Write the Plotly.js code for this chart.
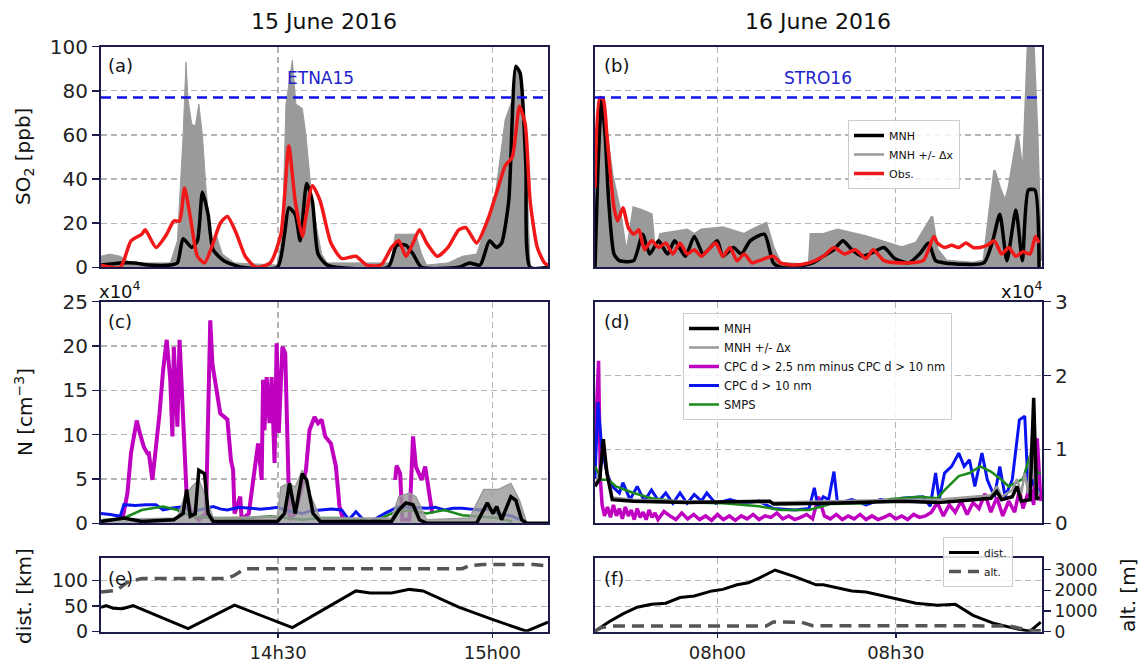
<!DOCTYPE html>
<html><head><meta charset="utf-8">
<script src="https://cdn.plot.ly/plotly-3.0.1.min.js"></script>
<style>html,body{margin:0;padding:0;background:#fff;} #chart{width:1144px;height:664px;}</style>
</head><body><div id="chart"></div>
<script>
// ---- time axes (minutes after 14:00 on 15 June, minutes after 07:00 on 16 June) ----
const xRange15 = [5.2, 67.8];
const xRange16 = [39.4, 114.6];
const xTicks15 = [30, 60];
const xTickText15 = ['14h30', '15h00'];
const xTicks16 = [60, 90];
const xTickText16 = ['08h00', '08h30'];
const so2Threshold15 = 77;
const so2Threshold16 = 77;

// ---- (a) SO2 15 June ----
const aObsT = [5.2,7.9,9.4,10.9,11.4,12.9,14.4,15.4,16.2,16.9,17.7,18.7,19.7,20.9,21.9,22.9,24.2,25.4,26.9,28.9,30.4,31.5,32.4,33.4,33.9,34.8,35.9,37.4,38.9,40.9,42.4,44.4,45.9,46.9,47.9,48.9,49.8,50.8,52.3,53.8,55.3,56.3,57.8,59.3,60.8,61.8,62.8,63.8,64.6,65.3,66.3,67.3,67.8];
const aObsV = [1,0,12,15,17,9,15,21,21,36,23,5,2,11,20,23,15,5,0,2,15,55,30,14,23,37,30,11,4,5,1,1,9,12,5,11,17,11,5,9,17,18,11,21,36,46,50,73,65,30,9,2,1];
const aMnhT = [5.2,7.9,9.9,11.9,14.9,15.9,16.7,17.9,18.7,19.4,20.2,20.9,22.4,24.9,29.9,30.9,31.5,32.4,33.1,34.0,34.8,35.6,36.9,45.4,46.6,47.9,48.9,50.1,55.3,56.8,58.3,59.6,60.6,61.3,62.3,63.3,63.9,64.7,65.3,67.8];
const aMnhV = [1,2,2,1,1,2,13,9,12,34,24,8,3,0,0,15,27,24,12,38,30,6,1,0,10,10,6,0,0,2,1,12,9,11,30,91,88,46,0,0];
const aGrayT = [5.2,6.4,7.9,9.4,14.9,15.9,16.7,17.1,17.4,17.9,18.4,18.9,19.4,19.9,20.7,21.4,22.2,23.9,29.9,30.6,31.1,32.0,32.5,33.4,33.9,34.6,35.4,36.1,36.9,45.9,46.4,49.3,50.1,50.8,53.8,55.8,57.8,60.3,61.8,62.8,63.3,64.1,64.8,65.3,67.8];
const aGrayV = [5,6,5,2,2,12,60,93,76,65,64,74,60,36,9,14,6,2,1,15,74,94,74,72,60,36,18,6,2,2,15,15,6,1,2,5,6,30,67,76,92,86,46,0,0];

// ---- (b) SO2 16 June ----
const bObsT = [39.4,40.2,40.8,41.4,42.0,42.6,43.2,44.1,45.0,45.9,46.8,47.7,48.9,50.1,51.3,52.5,53.7,54.9,56.1,57.3,58.5,59.7,60.9,62.1,63.3,64.5,65.8,67.0,69.4,70.6,73.0,75.4,77.8,79.6,81.4,83.2,85.0,86.2,88.0,91.0,94.6,96.4,97.0,98.2,99.4,100.6,101.8,103.0,104.2,105.4,106.6,107.8,109.0,110.2,111.4,112.6,113.5,114.1];
const bObsV = [36,77,76,60,42,27,21,27,18,15,17,8,12,9,11,6,11,6,8,5,8,11,5,9,3,6,2,3,5,2,1,2,5,9,6,8,4,8,3,2,3,14,11,9,10,9,11,9,9,10,12,6,9,5,7,6,14,11];
const bMnhT = [39.4,39.9,40.5,41.1,41.7,42.6,43.5,45.9,47.4,48.6,50.1,51.6,52.8,54.6,56.1,57.6,58.8,60.0,60.9,62.7,64.0,65.5,67.9,69.4,70.6,73.0,76.0,77.8,79.6,81.1,82.6,84.4,85.6,88.0,89.8,92.2,94.0,95.5,96.7,98.2,104.8,106.3,107.5,108.7,110.2,111.3,112.3,113.4,114.1];
const bMnhV = [0,45,76,60,30,6,3,3,15,6,12,6,12,5,14,6,9,12,5,9,6,12,15,2,0,0,2,5,8,12,8,5,6,9,4,2,6,11,3,2,2,12,24,3,26,3,35,35,0];
const bGrayT = [39.4,39.9,40.6,41.4,42.3,43.5,44.7,45.9,47.1,48.9,49.5,50.4,54.9,56.1,57.3,60.9,64.5,65.8,68.2,69.4,70.6,75.4,75.7,77.8,80.2,85.0,87.4,91.0,93.4,96.1,97.0,98.5,103.0,104.8,106.6,107.5,108.4,109.0,110.5,111.4,112.3,113.1,113.8,114.4];
const bGrayV = [3,63,76,60,42,27,6,27,26,24,6,15,17,15,17,18,15,17,20,9,2,1,15,15,17,14,12,9,11,23,8,3,2,3,44,36,30,36,60,42,105,105,60,3];

// ---- (c) particle number 15 June (x10^4 cm-3) ----
const cCpcT = [8.2,8.9,9.4,9.7,10.2,10.7,11.2,11.7,11.9,12.4,12.9,13.4,13.9,14.4,14.9,15.2,15.4,15.9,16.2,16.7,16.9,17.2,17.9,18.9,19.9,20.5,20.8,21.4,21.9,22.9,23.4,23.7,23.9,24.7,24.9,25.9,27.2,27.7,27.9,28.1,28.4,28.8,29.1,29.5,29.8,30.1,30.6,31.0,31.3,31.6,32.4,33.9,34.4,35.1,35.6,36.1,36.6,37.4,38.1,38.6,39.1,42.0,46.4,46.6,47.1,47.4,48.4,48.9,49.3,50.1,50.6,51.1,51.6];
const cCpcV = [0.4,3.4,7.9,9.4,11.6,10,8.6,7.9,7.9,4.9,8.6,12.4,17.3,20.7,16.2,9.8,19.9,10.9,20.7,11.7,6.4,3,1.1,0.4,1.1,22.9,18,15,12.4,11.7,7.1,6,1.1,3,0.4,1.1,9,4.9,16.2,10.5,16.5,11.3,16.5,6.8,20.3,10.2,19.9,19.2,8.6,0.4,1.1,6,10.5,12,11.3,11.7,9.8,9,6.4,1.9,0.4,null,4.9,6.5,5.6,0.4,0.4,9.8,6.4,4.9,6.4,3.8,1.1];
const cBlueT = [5.2,6.5,7.9,8.4,10.0,11.5,12.9,13.9,15.0,16.9,17.9,18.9,20.0,20.9,22.0,22.9,24.5,25.9,27.5,28.9,30.0,30.9,32.0,33.4,34.5,35.9,37.5,38.9,39.9,40.9,42.4,43.4,44.9,46.9,48.5,50.8,52.0,53.3,54.5,55.8,57.0,58.3,59.5,60.8,62.8,63.8];
const cBlueV = [1.1,1.0,0.8,2.1,2.0,2.1,2.1,1.5,1.7,1.9,1.1,1.5,1.7,1.9,1.6,1.5,1.8,1.7,1.6,1.7,1.8,1.5,1.3,1.1,1.4,1.5,1.6,1.5,0.4,1.3,0,0.4,1.1,1.9,1.8,1.7,1.8,1.5,1.7,1.7,1.6,1.5,1.6,1.1,0.8,0.4];
const cSmpsT = [5.5,7.9,10.9,13.9,15.9,17.9,20.9,25.9,28.9,33.4,35.9,38.4,43.4,45.9,48.4,50.8,53.3,55.8,60.8,62.8];
const cSmpsV = [0.4,0.4,1.5,1.9,1.5,0.8,0.6,0.6,0.8,0.4,0.6,0.6,0.2,1.1,1.5,1.1,1.5,0.9,0.6,0.2];
const cMnhT = [5.2,8.4,10.9,15.4,16.7,17.2,17.7,18.4,18.9,19.7,20.2,20.9,29.9,30.9,31.6,32.4,33.4,34.0,34.9,35.9,45.9,46.9,47.9,48.9,49.8,50.8,57.8,59.3,60.1,60.6,61.3,62.6,63.3,64.1,64.8,67.8];
const cMnhV = [0.2,0.6,0.2,0.4,1.1,3.8,0.8,1.1,6,5.6,1.1,0.2,0.2,1.1,4.5,1.1,5.6,4.9,1.1,0.2,0.2,1.5,2.3,2.1,0.4,0,0,2.3,1.1,1.9,0.4,3,2.6,0.4,0,0];
const cGrayT = [5.2,15.9,16.9,17.9,18.9,19.7,20.9,29.9,30.4,31.4,32.4,33.4,34.4,35.9,45.9,46.9,48.4,49.3,50.8,56.8,58.8,60.8,62.6,63.8,64.8,67.8];
const cGrayV = [0.4,0.6,3,4.1,4.9,3.4,0.6,0.8,4.1,4.5,4.1,6,3.4,0.6,0.6,3,3.4,3,0.4,0.6,3.8,3.8,4.5,2.6,0.1,0];

// ---- (d) particle number 16 June (x10^4 cm-3) ----
const dMnhT = [39.4,40.2,40.8,41.4,42.3,45.9,54.9,68.8,69.4,79.0,91.0,97.0,100.0,103.0,106.0,107.0,107.8,109.6,110.4,111.1,112.6,113.2,113.7,114.1];
const dMnhV = [0.5,0.6,1.14,0.68,0.32,0.3,0.28,0.3,0.26,0.27,0.3,0.28,0.3,0.32,0.34,0.43,0.32,0.36,0.5,0.3,0.32,1.7,0.32,0.36];
const dGrayT = [39.4,40.2,40.8,41.4,42.3,45.9,54.9,69.4,79.0,91.0,97.0,103.0,106.0,107.0,107.8,109.6,110.4,111.1,111.7,112.3,112.9,113.5,114.1];
const dGrayV = [0.5,0.7,1.0,0.75,0.35,0.32,0.3,0.28,0.3,0.32,0.32,0.36,0.38,0.5,0.36,0.45,0.6,0.4,0.68,0.4,1.2,0.5,0.4];
const dBlueT = [39.4,39.9,40.5,41.4,42.3,43.5,44.1,45.3,46.5,47.7,48.9,50.1,51.3,52.5,53.7,54.9,56.1,57.3,58.2,59.7,62.1,64.5,67.0,69.4,73.0,75.4,76.3,76.9,77.8,78.7,79.6,80.2,82.6,85.0,87.4,89.2,91.0,94.6,95.8,96.7,97.3,98.2,99.4,100.6,101.5,102.4,103.3,104.5,105.4,106.6,107.5,108.4,109.6,110.8,111.7,112.3,113.2,114.1];
const dBlueV = [0.6,1.64,1.05,0.68,0.5,0.41,0.55,0.32,0.5,0.3,0.45,0.3,0.41,0.27,0.41,0.27,0.39,0.3,0.41,0.27,0.32,0.27,0.3,0.2,0.18,0.2,0.48,0.23,0.36,0.32,0.7,0.27,0.32,0.25,0.32,0.3,0.34,0.36,0.23,0.68,0.32,0.68,0.77,0.95,0.77,0.86,0.5,0.95,0.59,0.36,0.77,0.36,0.59,1.4,1.45,0.41,0.59,0.41];
const dSmpsT = [39.4,40.5,41.7,42.9,45.9,48.9,54.9,60.9,67.0,70.6,75.4,79.0,85.0,89.2,94.0,97.0,98.2,100.6,102.4,104.2,106.0,107.8,109.0,110.2,111.4,112.9,113.8,114.4];
const dSmpsV = [0.77,0.59,0.59,0.5,0.41,0.34,0.28,0.27,0.23,0.18,0.18,0.26,0.27,0.33,0.36,0.34,0.45,0.64,0.68,0.77,0.7,0.59,0.5,0.55,0.6,1.0,0.68,0.68];
const dCpcT = [39.4,39.7,40.0,40.3,40.6,41.0,
  41.5,42.0,42.5,43.0,43.5,44.0,44.5,45.0,45.5,46.0,46.5,47.0,47.5,48.0,48.5,49.0,49.5,50.0,
  51,52,53,54,55,56,57,58,59,60,
  61,62,63,64,65,66,67,68,69,70,
  71,72,73,74,75,76,77,78,79,80,
  81,82,83,84,85,86,87,88,89,90,
  91,92,93,94,95,96,97,98,99,100,
  101,102,103,104,105,106,107,108,109,110,
  110.8,111.4,112.0,112.6,113.2,113.8,114.4];
const dCpcV = [1.05,1.6,2.2,0.6,0.25,0.1,
  0.22,0.08,0.25,0.1,0.2,0.06,0.22,0.1,0.18,0.05,0.2,0.08,0.15,0.05,0.18,0.08,0.14,0.05,
  0.16,0.1,0.05,0.14,0.06,0.12,0.05,0.1,0.04,0.12,
  0.05,0.1,0.04,0.1,0.06,0.12,0.05,0.1,0.08,0.14,
  0.06,0.1,0.05,0.08,0.12,0.06,0.36,0.1,0.06,0.12,
  0.05,0.1,0.06,0.12,0.05,0.1,0.05,0.08,0.12,0.06,
  0.1,0.05,0.12,0.08,0.1,0.15,0.28,0.1,0.25,0.15,
  0.3,0.12,0.28,0.2,0.4,0.15,0.35,0.1,0.3,0.15,
  0.45,0.2,0.35,0.5,0.25,1.15,0.3];

// ---- (e)/(f) flight distance [km] and altitude [m] ----
const eDistT = [5.2,5.9,6.9,8.2,9.7,10.9,17.4,23.9,32.0,40.9,42.9,45.9,48.4,50.3,55.3,59.8,64.8,67.8];
const eDistV = [48,51,46,45,51,44,6,52,8,80,76,76,83,80,48,25,1,19];
const eAltT = [5.2,7.4,8.9,10.9,22.9,23.9,25.4,55.8,56.8,58.8,65.8,67.8];
const eAltV = [1920,2000,2400,2570,2570,2730,3050,3050,3200,3250,3250,3180];
const fDistT = [39.4,41.7,44.1,46.5,48.9,51.3,53.7,56.1,59.1,60.9,63.3,65.2,67.0,69.7,73.0,76.6,77.8,80.2,82.6,85.0,88.0,91.0,93.4,97.0,100.0,103.0,106.6,110.2,112.6,114.4];
const fDistV = [1,19,35,48,54,56,67,70,80,83,92,96,105,121,108,92,92,86,80,78,70,61,56,52,54,32,16,6,1,19];
const fAltT = [39.4,40.5,42.3,68.2,69.4,74.2,76.0,109.0,112.6,114.4];
const fAltV = [30,200,280,280,470,450,290,280,60,40];

// ---------------- styling ----------------
const W = 1144, H = 664;
const px = x => x / W;
const py = y => 1 - y / H;
const FONT = 'DejaVu Sans, Verdana, sans-serif';
const SPINE = '#1c1c4a';
const GRID = '#b4b4b4';
const C_BLACK = '#000000', C_GRAY = '#9a9a9a', C_RED = '#f01818', C_MAG = '#c000c0', C_BLUE = '#0a14f0', C_GREEN = '#1a8a1a', C_ALT = '#555555';

const col1 = [px(101), px(548)], col2 = [px(595), px(1042)];
const rowA = [py(267.3), py(46.7)], rowC = [py(523.3), py(301.7)], rowE = [py(631.7), py(558.3)];

function xax(domain, range, anchor, tickvals, ticktext, labels) {
  return {domain, range, anchor, tickvals, ticktext, showticklabels: labels,
    ticks: labels ? 'outside' : '', ticklen: 4, tickwidth: 1.5, tickcolor: SPINE,
    tickfont: {size: 18, color: '#222', family: FONT},
    showline: true, mirror: true, linecolor: SPINE, linewidth: 2, zeroline: false,
    showgrid: true, gridcolor: GRID, gridwidth: 1.2, griddash: '6px,4px'};
}
function yax(domain, range, anchor, tickvals, labels, side, fsize) {
  return {domain, range, anchor, tickvals, showticklabels: labels, side: side || 'left',
    ticks: labels ? 'outside' : '', ticklen: 7, tickwidth: 1.5, tickcolor: SPINE,
    tickfont: {size: fsize || 20, color: '#222', family: FONT},
    showline: true, mirror: true, linecolor: SPINE, linewidth: 2, zeroline: false,
    showgrid: true, gridcolor: GRID, gridwidth: 1.2, griddash: '6px,4px'};
}

const traces = [];
function ln(x, y, xa, ya, color, width, opts) {
  const t = Object.assign({type: 'scatter', mode: 'lines', x, y, xaxis: xa, yaxis: ya,
    line: {color, width}, showlegend: false, hoverinfo: 'skip', connectgaps: false}, opts || {});
  if (opts && opts.line) t.line = Object.assign({color, width}, opts.line);
  traces.push(t);
}
const SPL = {shape: 'spline', smoothing: 0.6};

// (a)
ln(aGrayT, aGrayV, 'x', 'y', C_GRAY, 1, {fill: 'tozeroy', fillcolor: C_GRAY});
ln(aMnhT, aMnhV, 'x', 'y', C_BLACK, 3.5, {line: SPL});
ln(aObsT, aObsV, 'x', 'y', C_RED, 3.5, {line: SPL});
// (b)
ln(bGrayT, bGrayV, 'x2', 'y2', C_GRAY, 1, {fill: 'tozeroy', fillcolor: C_GRAY});
ln(bGrayT, bGrayV, 'x2', 'y2', C_GRAY, 2.5, {name: 'MNH +/- Δx', showlegend: true, legend: 'legend', legendrank: 2});
ln(bMnhT, bMnhV, 'x2', 'y2', C_BLACK, 3.5, {name: 'MNH', showlegend: true, legend: 'legend', legendrank: 1, line: SPL});
ln(bObsT, bObsV, 'x2', 'y2', C_RED, 3.5, {name: 'Obs.', showlegend: true, legend: 'legend', legendrank: 3, line: SPL});
// (c)
ln(cCpcT, cCpcV, 'x3', 'y3', C_MAG, 4);
ln(cBlueT, cBlueV, 'x3', 'y3', C_BLUE, 3);
ln(cSmpsT, cSmpsV, 'x3', 'y3', C_GREEN, 2.5);
ln(cGrayT, cGrayV, 'x3', 'y3', C_GRAY, 1.5, {fill: 'tozeroy', fillcolor: 'rgba(154,154,154,0.8)'});
ln(cMnhT, cMnhV, 'x3', 'y3', C_BLACK, 3.5);
// (d)
ln(dCpcT, dCpcV, 'x4', 'y4', C_MAG, 3.5, {name: 'CPC d > 2.5 nm minus CPC d > 10 nm', showlegend: true, legend: 'legend2', legendrank: 3});
ln(dBlueT, dBlueV, 'x4', 'y4', C_BLUE, 3, {name: 'CPC d > 10 nm', showlegend: true, legend: 'legend2', legendrank: 4});
ln(dSmpsT, dSmpsV, 'x4', 'y4', C_GREEN, 2.5, {name: 'SMPS', showlegend: true, legend: 'legend2', legendrank: 5});
ln(dGrayT, dGrayV, 'x4', 'y4', C_GRAY, 2.5, {name: 'MNH +/- Δx', showlegend: true, legend: 'legend2', legendrank: 2});
ln(dMnhT, dMnhV, 'x4', 'y4', C_BLACK, 3.5, {name: 'MNH', showlegend: true, legend: 'legend2', legendrank: 1});
// (e)
ln(eDistT, eDistV, 'x5', 'y5', C_BLACK, 3);
ln(eAltT, eAltV, 'x5', 'y6', C_ALT, 3.5, {line: {dash: '12px,7px'}});
// (f)
ln(fDistT, fDistV, 'x6', 'y7', C_BLACK, 3, {name: 'dist.', showlegend: true, legend: 'legend3', legendrank: 1});
ln(fAltT, fAltV, 'x6', 'y8', C_ALT, 3.5, {name: 'alt.', showlegend: true, legend: 'legend3', legendrank: 2, line: {dash: '12px,7px'}});

function ann(text, x, y, size, opts) {
  return Object.assign({text, x, y, xref: 'paper', yref: 'paper', showarrow: false,
    xanchor: 'center', yanchor: 'middle', font: {size, family: FONT, color: '#111'}}, opts || {});
}
const legendBase = {bgcolor: 'rgba(255,255,255,0.85)', bordercolor: '#cccccc', borderwidth: 1,
  xanchor: 'left', yanchor: 'top', xref: 'paper', yref: 'paper', itemwidth: 30, tracegroupgap: 0,
  traceorder: 'normal'};

const yaxis8 = yax(rowE, [0, 3550], 'x6', [0, 1000, 2000, 3000], true, 'right', 17);
delete yaxis8.domain;
yaxis8.overlaying = 'y7';
yaxis8.showgrid = false;

const layout = {
  width: W, height: H, margin: {l: 0, r: 0, t: 0, b: 0},
  paper_bgcolor: '#ffffff', plot_bgcolor: '#ffffff',
  font: {family: FONT, color: '#111'},
  hovermode: false,
  xaxis:  xax(col1, xRange15, 'y',  xTicks15, xTickText15, false),
  yaxis:  yax(rowA, [0, 100], 'x', [0, 20, 40, 60, 80, 100], true),
  xaxis2: xax(col2, xRange16, 'y2', xTicks16, xTickText16, false),
  yaxis2: yax(rowA, [0, 100], 'x2', [20, 40, 60, 80], false),
  xaxis3: xax(col1, xRange15, 'y3', xTicks15, xTickText15, false),
  yaxis3: yax(rowC, [0, 25], 'x3', [0, 5, 10, 15, 20, 25], true),
  xaxis4: xax(col2, xRange16, 'y4', xTicks16, xTickText16, false),
  yaxis4: yax(rowC, [0, 3], 'x4', [0, 1, 2, 3], true, 'right'),
  xaxis5: xax(col1, xRange15, 'y5', xTicks15, xTickText15, true),
  yaxis5: yax(rowE, [0, 144], 'x5', [0, 50, 100], true, 'left', 19),
  yaxis6: {overlaying: 'y5', anchor: 'x5', range: [0, 3550], visible: false},
  xaxis6: xax(col2, xRange16, 'y7', xTicks16, xTickText16, true),
  yaxis7: yax(rowE, [0, 144], 'x6', [50, 100], false),
  yaxis8: yaxis8,
  legend:  Object.assign({}, legendBase, {x: px(848), y: py(120), font: {size: 11, family: FONT, color: '#111'}}),
  legend2: Object.assign({}, legendBase, {x: px(683), y: py(313), font: {size: 11.5, family: FONT, color: '#111'}}),
  legend3: Object.assign({}, legendBase, {x: px(943), y: py(537), font: {size: 10.5, family: FONT, color: '#111'}}),
  shapes: [
    {type: 'line', xref: 'x domain', yref: 'y', x0: 0, x1: 1, y0: so2Threshold15, y1: so2Threshold15,
     line: {color: '#1010ee', width: 2.5, dash: '10px,6px'}},
    {type: 'line', xref: 'x2 domain', yref: 'y2', x0: 0, x1: 1, y0: so2Threshold16, y1: so2Threshold16,
     line: {color: '#1010ee', width: 2.5, dash: '10px,6px'}}
  ],
  annotations: [
    ann('15 June 2016', px(324), py(22), 22),
    ann('16 June 2016', px(818), py(22), 22),
    ann('(a)', px(106), py(65), 18, {xanchor: 'left'}),
    ann('(b)', px(602), py(65), 18, {xanchor: 'left'}),
    ann('(c)', px(106), py(321), 18, {xanchor: 'left'}),
    ann('(d)', px(602), py(321), 18, {xanchor: 'left'}),
    ann('(e)', px(106), py(578), 18, {xanchor: 'left'}),
    ann('(f)', px(602), py(578), 18, {xanchor: 'left'}),
    ann('ETNA15', px(320), py(78), 17, {font: {size: 17, family: FONT, color: '#2222cc'}}),
    ann('STRO16', px(818), py(78), 17, {font: {size: 17, family: FONT, color: '#2222cc'}}),
    ann('x10<sup>4</sup>', px(97), py(290), 18, {xanchor: 'left'}),
    ann('x10<sup>4</sup>', px(1045), py(290), 18, {xanchor: 'right'}),
    ann('SO<sub>2</sub> [ppb]', px(24), py(157), 20, {textangle: -90}),
    ann('N [cm<sup>−3</sup>]', px(24), py(412), 20, {textangle: -90}),
    ann('dist. [km]', px(24), py(596), 20, {textangle: -90}),
    ann('alt. [m]', px(1128), py(596), 20, {textangle: -90})
  ]
};

Plotly.newPlot('chart', traces, layout, {staticPlot: true, displayModeBar: false});
</script>
</body></html>
